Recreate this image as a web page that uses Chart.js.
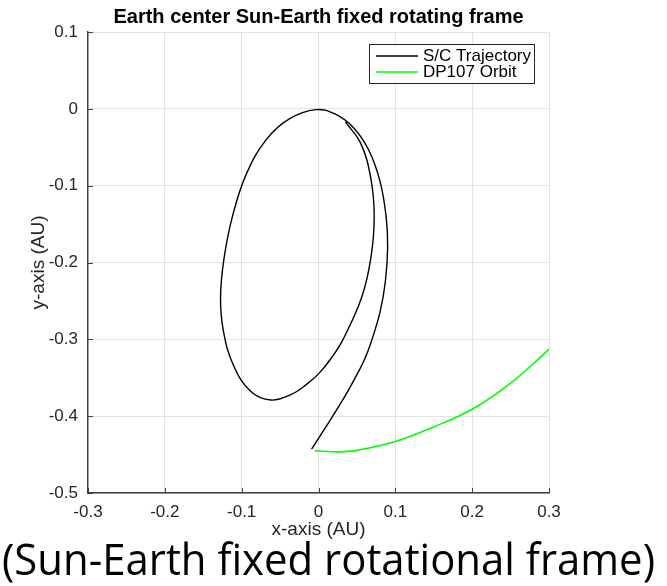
<!DOCTYPE html>
<html>
<head>
<meta charset="utf-8">
<title>Earth center Sun-Earth fixed rotating frame</title>
<script src="https://cdn.jsdelivr.net/npm/chart.js@4.4.1/dist/chart.umd.min.js"></script>
<style>
  html, body { margin: 0; padding: 0; background: #fff; }
  #wrap { width: 667px; height: 586px; }
</style>
</head>
<body>
<div id="wrap"><canvas id="myChart" width="667" height="586"></canvas></div>
<script>
// S/C trajectory (AU) - starts at the free end near the top,
// runs down the inner arc, round the loop, over the top and down the outer arc
const scX = [0.035, 0.055, 0.068, 0.0725, 0.068, 0.056, 0.032, 0.017, 0.001, -0.016, -0.036, -0.062, -0.088, -0.111, -0.124,
  -0.1275, -0.123, -0.112, -0.094, -0.068, -0.038, -0.003, 0.022, 0.045, 0.065, 0.080, 0.088, 0.090, 0.087, 0.080, 0.068,
  0.060, 0.050, 0.039, 0.026, 0.009, -0.009];
const scY = [-0.017, -0.045, -0.090, -0.140, -0.195, -0.246, -0.300, -0.324, -0.344, -0.359, -0.372, -0.379, -0.368, -0.333, -0.288,
  -0.245, -0.195, -0.140, -0.085, -0.040, -0.013, -0.001, -0.007, -0.024, -0.053, -0.094, -0.140, -0.180, -0.225, -0.265, -0.305,
  -0.326, -0.346, -0.366, -0.388, -0.415, -0.443];

// DP107 orbit
const dpX = [-0.005, 0.027, 0.05, 0.10, 0.15, 0.20, 0.25, 0.30];
const dpY = [-0.445, -0.4465, -0.4445, -0.433, -0.414, -0.391, -0.357, -0.313];

const xTicks = [-0.3, -0.2, -0.1, 0, 0.1, 0.2, 0.3];
const yTicks = [-0.5, -0.4, -0.3, -0.2, -0.1, 0, 0.1];

const chartTitle = 'Earth center Sun-Earth fixed rotating frame';
const caption = '(Sun-Earth fixed rotational frame)';

const toPoints = (xs, ys) => xs.map((x, i) => ({ x: x, y: ys[i] }));

Chart.defaults.font.family = '"Liberation Sans", Arial, Helvetica, sans-serif';
Chart.defaults.color = '#262626';

// matlab style ticks pointing inward
const insideTicks = {
  id: 'insideTicks',
  afterDatasetsDraw(chart) {
    const { ctx, chartArea, scales } = chart;
    ctx.save();
    ctx.strokeStyle = '#404040';
    ctx.lineWidth = 1;
    scales.x.ticks.forEach(t => {
      const px = Math.round(scales.x.getPixelForValue(t.value)) + 0.5;
      ctx.beginPath();
      ctx.moveTo(px, chartArea.bottom);
      ctx.lineTo(px, chartArea.bottom - 5);
      ctx.stroke();
    });
    scales.y.ticks.forEach(t => {
      const py = Math.round(scales.y.getPixelForValue(t.value)) + 0.5;
      ctx.beginPath();
      ctx.moveTo(chartArea.left, py);
      ctx.lineTo(chartArea.left + 5, py);
      ctx.stroke();
    });
    ctx.restore();
  }
};

// boxed legend inside the top right corner
const boxLegend = {
  id: 'boxLegend',
  afterDatasetsDraw(chart) {
    const { ctx, chartArea } = chart;
    const sets = chart.data.datasets;
    ctx.save();
    ctx.font = '17px "Liberation Sans", Arial, sans-serif';
    let textW = 0;
    sets.forEach(d => { textW = Math.max(textW, ctx.measureText(d.label).width); });
    const w = 54 + textW + 3;
    const h = 39;
    const left = chartArea.right - 15 - w;
    const top = chartArea.top + 12;
    ctx.fillStyle = '#fff';
    ctx.fillRect(left, top, w, h);
    ctx.strokeStyle = '#262626';
    ctx.lineWidth = 1;
    ctx.strokeRect(Math.round(left) + 0.5, Math.round(top) + 0.5, Math.round(w), h);
    ctx.textBaseline = 'middle';
    sets.forEach((d, i) => {
      const cy = top + 12 + i * 16;
      ctx.strokeStyle = d.borderColor;
      ctx.lineWidth = 1.3;
      ctx.beginPath();
      ctx.moveTo(left + 7, cy);
      ctx.lineTo(left + 49, cy);
      ctx.stroke();
      ctx.fillStyle = '#000';
      ctx.fillText(d.label, left + 54, cy);
    });
    ctx.restore();
  }
};

// title centred over the plot box, and the big caption under the figure
const titleAndCaption = {
  id: 'titleAndCaption',
  afterDraw(chart) {
    const { ctx, chartArea } = chart;
    ctx.save();
    ctx.fillStyle = '#000';
    ctx.font = 'bold 20px "Liberation Sans", Arial, sans-serif';
    ctx.textAlign = 'center';
    ctx.textBaseline = 'middle';
    ctx.fillText(chartTitle, (chartArea.left + chartArea.right) / 2, 17);

    ctx.font = '44px "Open Sans", "Noto Sans", sans-serif';
    ctx.textAlign = 'left';
    ctx.textBaseline = 'alphabetic';
    const tw = ctx.measureText(caption).width;
    ctx.translate(2, 575);
    ctx.scale(653 / tw, 1);
    ctx.fillText(caption, 0, 0);
    ctx.restore();
  }
};

const ctx = document.getElementById('myChart');

new Chart(ctx, {
  type: 'scatter',
  data: {
    datasets: [{
      label: 'S/C Trajectory',
      data: toPoints(scX, scY),
      showLine: true,
      borderColor: '#000000',
      backgroundColor: '#000000',
      borderWidth: 1.4,
      pointRadius: 0,
      tension: 0.4
    },
    {
      label: 'DP107 Orbit',
      data: toPoints(dpX, dpY),
      showLine: true,
      borderColor: '#00ff00',
      backgroundColor: '#00ff00',
      borderWidth: 1.6,
      pointRadius: 0,
      tension: 0.4
    }]
  },
  options: {
    responsive: false,
    animation: false,
    layout: {
      padding: { left: 0, right: 118, top: 32, bottom: 45 }
    },
    scales: {
      x: {
        type: 'linear',
        min: -0.3,
        max: 0.3,
        afterBuildTicks: s => { s.ticks = xTicks.map(v => ({ value: v })); },
        afterFit: s => { s.height = 48; },
        grid: { color: '#e3e3e3', drawTicks: false },
        border: { color: '#404040', width: 1.4 },
        ticks: {
          padding: 9,
          maxRotation: 0,
          font: { size: 17 },
          color: '#262626',
          callback: v => String(v)
        },
        title: {
          display: true,
          text: 'x-axis (AU)',
          font: { size: 19 },
          color: '#262626',
          padding: { top: 0, bottom: 0 }
        }
      },
      y: {
        type: 'linear',
        min: -0.5,
        max: 0.1,
        afterBuildTicks: s => { s.ticks = yTicks.map(v => ({ value: v })); },
        afterFit: s => { s.width = 88; },
        grid: { color: '#e3e3e3', drawTicks: false },
        border: { color: '#404040', width: 1.4 },
        ticks: {
          padding: 10,
          font: { size: 17 },
          color: '#262626',
          callback: v => String(v)
        },
        title: {
          display: true,
          text: 'y-axis (AU)',
          font: { size: 19 },
          color: '#262626',
          padding: { top: 27, bottom: 0 }
        }
      }
    },
    plugins: {
      legend: { display: false },
      tooltip: { enabled: false },
      title: { display: false }
    }
  },
  plugins: [insideTicks, boxLegend, titleAndCaption]
});
</script>
</body>
</html>
